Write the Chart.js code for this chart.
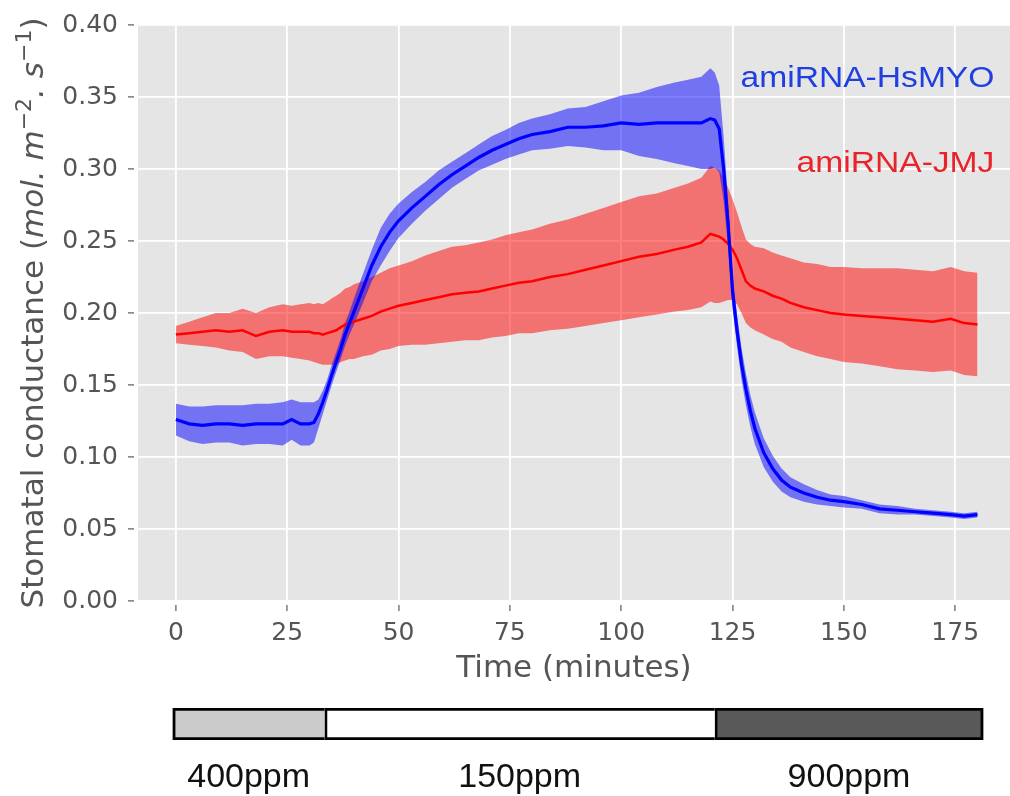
<!DOCTYPE html>
<html>
<head>
<meta charset="utf-8">
<script src="https://cdn.jsdelivr.net/npm/chart.js@4"></script>
<style>
  body { margin: 0; background: #fff; }
  #main { position: absolute; left: 0; top: 0; }
  #co2 { position: absolute; left: 0; top: 700px; }
</style>
</head>
<body>
<canvas id="main" width="1010" height="700"></canvas>
<canvas id="co2" width="1010" height="96"></canvas>
<script>
// time axis (minutes) shared by both lines
const minutes = [0, 3, 6, 9, 12, 15, 18, 21, 24, 26, 28, 30, 31, 32, 33, 34, 35, 36, 37, 38, 39, 40,
  42, 44, 46, 48, 50, 53, 56, 59, 62, 65, 68, 71, 74, 77, 80, 84, 88, 92, 96, 100, 104, 108, 112, 115,
  118, 120, 121, 122, 123, 124, 125, 126, 127, 128, 129, 130, 132, 134, 136, 138, 141, 144, 147, 150,
  154, 158, 162, 166, 170, 174, 177, 180];

const hsmyoMean = [0.126, 0.123, 0.122, 0.123, 0.123, 0.122, 0.123, 0.123, 0.123, 0.126, 0.123, 0.123, 0.124, 0.130, 0.138, 0.147, 0.157, 0.166, 0.175, 0.185, 0.193, 0.201,
  0.217, 0.233, 0.246, 0.256, 0.264, 0.273, 0.281, 0.289, 0.296, 0.302, 0.308, 0.313, 0.317, 0.321, 0.324, 0.326, 0.329, 0.329, 0.330, 0.332, 0.331, 0.332, 0.332, 0.332,
  0.332, 0.335, 0.334, 0.328, 0.300, 0.262, 0.215, 0.188, 0.165, 0.147, 0.132, 0.120, 0.103, 0.092, 0.084, 0.079, 0.075, 0.072, 0.070, 0.069,
  0.067, 0.064, 0.063, 0.062, 0.061, 0.060, 0.059, 0.060];
const hsmyoErr = [0.011, 0.012, 0.013, 0.013, 0.013, 0.014, 0.014, 0.014, 0.015, 0.014, 0.015, 0.015, 0.014, 0.010, 0.008, 0.007, 0.007, 0.007, 0.007, 0.008, 0.008, 0.009,
  0.010, 0.011, 0.013, 0.013, 0.012, 0.011, 0.010, 0.010, 0.009, 0.009, 0.009, 0.010, 0.010, 0.011, 0.011, 0.012, 0.013, 0.014, 0.017, 0.019, 0.022, 0.025, 0.028, 0.030,
  0.032, 0.035, 0.033, 0.030, 0.022, 0.016, 0.012, 0.011, 0.011, 0.011, 0.011, 0.011, 0.010, 0.009, 0.008, 0.007, 0.006, 0.005, 0.004, 0.004,
  0.003, 0.003, 0.003, 0.002, 0.002, 0.002, 0.002, 0.002];

const jmjMean = [0.185, 0.186, 0.187, 0.188, 0.187, 0.188, 0.184, 0.187, 0.188, 0.187, 0.187, 0.187, 0.186, 0.186, 0.185, 0.186, 0.187, 0.188, 0.190, 0.192, 0.193, 0.194,
  0.196, 0.198, 0.201, 0.203, 0.205, 0.207, 0.209, 0.211, 0.213, 0.214, 0.215, 0.217, 0.219, 0.221, 0.222, 0.225, 0.227, 0.230, 0.233, 0.236, 0.239, 0.241, 0.244, 0.246,
  0.249, 0.255, 0.254, 0.253, 0.251, 0.248, 0.244, 0.238, 0.230, 0.222, 0.219, 0.217, 0.215, 0.212, 0.210, 0.207, 0.204, 0.202, 0.200, 0.199,
  0.198, 0.197, 0.196, 0.195, 0.194, 0.196, 0.193, 0.192];
const jmjErr = [0.006, 0.008, 0.010, 0.012, 0.013, 0.015, 0.016, 0.017, 0.018, 0.018, 0.019, 0.020, 0.020, 0.021, 0.021, 0.022, 0.023, 0.024, 0.024, 0.025, 0.025, 0.026,
  0.026, 0.027, 0.027, 0.028, 0.028, 0.029, 0.031, 0.032, 0.033, 0.033, 0.034, 0.034, 0.035, 0.035, 0.036, 0.037, 0.038, 0.039, 0.040, 0.041, 0.042, 0.042, 0.043, 0.044,
  0.045, 0.047, 0.047, 0.046, 0.043, 0.039, 0.035, 0.032, 0.030, 0.029, 0.029, 0.029, 0.030, 0.030, 0.030, 0.031, 0.031, 0.032, 0.032, 0.033,
  0.033, 0.034, 0.035, 0.035, 0.035, 0.036, 0.036, 0.036];

const seriesNames = ['amiRNA-HsMYO', 'amiRNA-JMJ'];
const xTicks = [0, 25, 50, 75, 100, 125, 150, 175];
const yTicks = [0, 0.05, 0.10, 0.15, 0.20, 0.25, 0.30, 0.35, 0.40];

// CO2 phases under the time axis
const co2Labels = ['400ppm', '150ppm', '900ppm'];
const co2Start = [-0.7, 33.4, 121.0];
const co2End = [33.4, 121.0, 181.3];

const X_MIN = -8.5, X_MAX = 187.3;
const labelAt = { x: 183.8, y: [0.357, 0.298], color: ['#1f3fe0', '#e8232a'] };

const pts = arr => minutes.map((t, i) => ({ x: t, y: arr[i] }));
const plus = (m, e) => m.map((v, i) => v + e[i]);
const minus = (m, e) => m.map((v, i) => v - e[i]);

const plotBg = {
    id: 'plotBg',
    beforeDraw(chart) {
        const { ctx, chartArea: a } = chart;
        ctx.save();
        ctx.fillStyle = '#e5e5e5';
        ctx.fillRect(a.left, a.top, a.right - a.left, a.bottom - a.top);
        ctx.restore();
    }
};

// y title with italic units and superscripts
const yTitle = {
    id: 'yTitle',
    afterDraw(chart) {
        const { ctx, chartArea } = chart;
        const parts = [
            { t: 'Stomatal conductance (', f: '31px "DejaVu Sans"', dy: 0 },
            { t: 'mol. m', f: 'italic 31px "DejaVu Sans"', dy: 0 },
            { t: '\u22122', f: '22px "DejaVu Sans"', dy: -12 },
            { t: '. s', f: 'italic 31px "DejaVu Sans"', dy: 0 },
            { t: '\u22121', f: '22px "DejaVu Sans"', dy: -12 },
            { t: ')', f: '31px "DejaVu Sans"', dy: 0 }
        ];
        ctx.save();
        let total = 0;
        parts.forEach(p => { ctx.font = p.f; p.w = ctx.measureText(p.t).width; total += p.w; });
        ctx.translate(43, (chartArea.top + chartArea.bottom) / 2);
        ctx.rotate(-Math.PI / 2);
        ctx.fillStyle = '#555';
        ctx.textBaseline = 'alphabetic';
        let x = -total / 2;
        parts.forEach(p => { ctx.font = p.f; ctx.fillText(p.t, x, p.dy); x += p.w; });
        ctx.restore();
    }
};

const seriesLabels = {
    id: 'seriesLabels',
    afterDatasetsDraw(chart) {
        const { ctx, scales: { x, y } } = chart;
        ctx.save();
        ctx.font = '30px "Liberation Sans", Arial, sans-serif';
        ctx.textAlign = 'right';
        ctx.textBaseline = 'alphabetic';
        seriesNames.forEach((name, i) => {
            ctx.save();
            ctx.translate(x.getPixelForValue(labelAt.x), y.getPixelForValue(labelAt.y[i]));
            ctx.scale(1.12, 1);
            ctx.fillStyle = labelAt.color[i];
            ctx.fillText(name, 0, 0);
            ctx.restore();
        });
        ctx.restore();
    }
};

const tickFont = { family: 'DejaVu Sans', size: 25 };

new Chart(document.getElementById('main'), {
    type: 'line',
    data: {
        datasets: [
            { label: seriesNames[0], data: pts(hsmyoMean), borderColor: '#0000ff', borderWidth: 3.2, pointRadius: 0, fill: false },
            { label: seriesNames[1], data: pts(jmjMean), borderColor: '#ff0000', borderWidth: 2.5, pointRadius: 0, fill: false },
            { data: pts(plus(hsmyoMean, hsmyoErr)), borderWidth: 0, pointRadius: 0, backgroundColor: 'rgba(0,0,255,0.5)', fill: '+1' },
            { data: pts(minus(hsmyoMean, hsmyoErr)), borderWidth: 0, pointRadius: 0, fill: false },
            { data: pts(plus(jmjMean, jmjErr)), borderWidth: 0, pointRadius: 0, backgroundColor: 'rgba(255,0,0,0.5)', fill: '+1' },
            { data: pts(minus(jmjMean, jmjErr)), borderWidth: 0, pointRadius: 0, fill: false }
        ]
    },
    options: {
        responsive: false,
        animation: false,
        devicePixelRatio: 1,
        layout: { padding: { top: 19, right: 0, bottom: 0, left: 0 } },
        plugins: { legend: { display: false }, tooltip: { enabled: false } },
        scales: {
            x: {
                type: 'linear', min: X_MIN, max: X_MAX,
                afterBuildTicks: s => { s.ticks = xTicks.map(v => ({ value: v })); },
                afterFit: s => { s.height = 99; },
                border: { display: false },
                grid: { color: '#ffffff', lineWidth: 1.8, tickLength: 10, tickColor: '#666', tickWidth: 1.3, tickBorderDash: [6, 4], tickBorderDashOffset: 6 },
                ticks: { color: '#555', font: tickFont, padding: 7, maxRotation: 0, autoSkip: false, callback: v => String(v) },
                title: { display: true, text: 'Time (minutes)', color: '#555', font: { family: 'DejaVu Sans', size: 31 }, padding: { top: 0, bottom: 12 } }
            },
            y: {
                min: 0, max: 0.4,
                afterBuildTicks: s => { s.ticks = yTicks.map(v => ({ value: v })); },
                afterFit: s => { s.width = 138; },
                border: { display: false },
                grid: { color: '#ffffff', lineWidth: 1.8, tickLength: 10, tickColor: '#666', tickWidth: 1.3, tickBorderDash: [6, 4], tickBorderDashOffset: 0 },
                ticks: { color: '#555', font: tickFont, padding: 10, callback: v => v.toFixed(2) }
            }
        }
    },
    plugins: [plotBg, yTitle, seriesLabels]
});

const phaseLabels = {
    id: 'phaseLabels',
    afterDatasetsDraw(chart) {
        const { ctx } = chart;
        ctx.save();
        ctx.font = '34px "Liberation Sans", Arial, sans-serif';
        ctx.fillStyle = '#111';
        ctx.textAlign = 'center';
        ctx.textBaseline = 'alphabetic';
        co2Labels.forEach((lab, i) => {
            const el = chart.getDatasetMeta(i).data[0];
            ctx.fillText(lab, (el.x + el.base) / 2, el.y + 63);
        });
        ctx.restore();
    }
};

const co2Fill = ['#cbcbcb', '#ffffff', '#595959'];

new Chart(document.getElementById('co2'), {
    type: 'bar',
    data: {
        labels: ['CO2'],
        datasets: co2Labels.map((lab, i) => ({
            label: lab,
            data: [[co2Start[i], co2End[i]]],
            backgroundColor: co2Fill[i],
            borderColor: '#000',
            borderWidth: { top: 3, bottom: 3, left: 3, right: i === co2Labels.length - 1 ? 3 : 0 },
            borderSkipped: false,
            grouped: false,
            barThickness: 32
        }))
    },
    options: {
        indexAxis: 'y',
        responsive: false,
        animation: false,
        devicePixelRatio: 1,
        layout: { padding: { left: 138, right: 0, top: 8, bottom: 56 } },
        plugins: { legend: { display: false }, tooltip: { enabled: false } },
        scales: {
            x: { type: 'linear', display: false, min: X_MIN, max: X_MAX },
            y: { display: false }
        }
    },
    plugins: [phaseLabels]
});
</script>
</body>
</html>
